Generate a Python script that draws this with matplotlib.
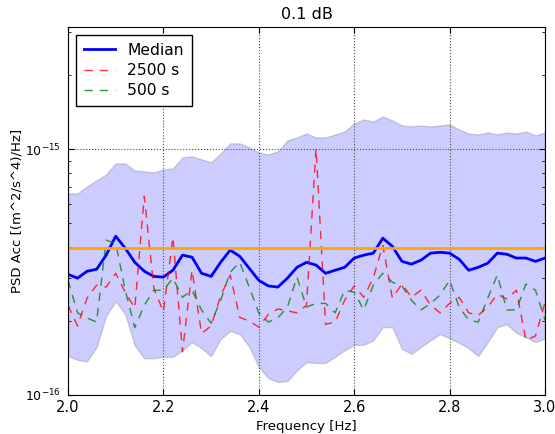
import matplotlib
matplotlib.use("Agg")
import matplotlib.pyplot as plt
import numpy as np

# frequency grid (Hz)
freq = np.round(np.arange(2.0, 3.0001, 0.02), 2)

# PSD values in units of 1e-15 (m^2/s^4)/Hz
median = [0.310, 0.299, 0.319, 0.325, 0.371, 0.443, 0.396, 0.347, 0.319, 0.304,
          0.302, 0.322, 0.371, 0.364, 0.313, 0.304, 0.347, 0.389, 0.367, 0.328,
          0.293, 0.278, 0.275, 0.299, 0.331, 0.347, 0.338, 0.313, 0.322, 0.331,
          0.361, 0.371, 0.378, 0.435, 0.403, 0.350, 0.341, 0.354, 0.378, 0.381,
          0.378, 0.357, 0.322, 0.331, 0.344, 0.378, 0.374, 0.361, 0.361, 0.350,
          0.361]
upper = [0.662, 0.662, 0.707, 0.748, 0.791, 0.877, 0.877, 0.821, 0.814, 0.806,
         0.829, 0.837, 0.928, 0.937, 0.911, 0.885, 0.963, 1.058, 1.058, 1.019,
         0.972, 0.954, 0.981, 1.088, 1.119, 1.161, 1.119, 1.119, 1.151, 1.183,
         1.276, 1.324, 1.300, 1.362, 1.312, 1.252, 1.240, 1.252, 1.240, 1.252,
         1.264, 1.206, 1.161, 1.151, 1.172, 1.151, 1.172, 1.161, 1.183, 1.140,
         1.172]
lower = [0.144, 0.139, 0.137, 0.157, 0.210, 0.241, 0.213, 0.159, 0.141, 0.141,
         0.143, 0.143, 0.152, 0.164, 0.155, 0.144, 0.169, 0.182, 0.177, 0.157,
         0.130, 0.117, 0.113, 0.114, 0.126, 0.136, 0.135, 0.135, 0.143, 0.152,
         0.160, 0.160, 0.167, 0.189, 0.189, 0.154, 0.147, 0.157, 0.167, 0.177,
         0.170, 0.163, 0.155, 0.144, 0.164, 0.189, 0.194, 0.179, 0.172, 0.164,
         0.170]
psd_2500 = [0.232, 0.191, 0.248, 0.280, 0.275, 0.313, 0.262, 0.226, 0.644, 0.272,
            0.218, 0.439, 0.150, 0.322, 0.178, 0.191, 0.253, 0.308, 0.207, 0.200,
            0.189, 0.213, 0.224, 0.220, 0.216, 0.232, 1.009, 0.194, 0.198, 0.243,
            0.278, 0.250, 0.300, 0.407, 0.248, 0.283, 0.250, 0.267, 0.232, 0.216,
            0.236, 0.250, 0.216, 0.211, 0.228, 0.257, 0.246, 0.267, 0.167, 0.174,
            0.238]
psd_500 = [0.293, 0.216, 0.206, 0.198, 0.427, 0.415, 0.267, 0.188, 0.232, 0.267,
           0.267, 0.299, 0.250, 0.267, 0.222, 0.196, 0.243, 0.316, 0.347, 0.275,
           0.216, 0.198, 0.206, 0.228, 0.302, 0.228, 0.236, 0.236, 0.216, 0.267,
           0.262, 0.222, 0.280, 0.313, 0.288, 0.278, 0.243, 0.222, 0.236, 0.255,
           0.293, 0.228, 0.202, 0.198, 0.248, 0.308, 0.222, 0.222, 0.283, 0.267,
           0.202]
threshold = 0.395

scale = 1e-15
fig = plt.figure(figsize=(5.55, 4.34), dpi=100)
ax = fig.add_axes([0.1225, 0.0899, 0.8595, 0.8479])

ax.fill_between(freq, np.array(lower) * scale, np.array(upper) * scale,
                facecolor="blue", alpha=0.2, edgecolor="0.25", linewidth=1)
ax.plot(freq, np.array(median) * scale, color="blue", lw=2, label="Median")
ax.plot(freq, np.array(psd_2500) * scale, color="red", ls="--", dashes=(6, 5),
        lw=1, alpha=0.8, label="2500 s")
ax.plot(freq, np.array(psd_500) * scale, color="green", ls="--", dashes=(6, 5),
        lw=1, alpha=0.8, label="500 s")
ax.axhline(threshold * scale, color="orange", lw=2)

ax.set_yscale("log")
ax.set_xlim(2.0, 3.0)
ax.set_ylim(1e-16, 3.15e-15)
ax.set_xticks(np.arange(2.0, 3.01, 0.2))
ax.set_xticklabels(["2.0", "2.2", "2.4", "2.6", "2.8", "3.0"])
ax.tick_params(which="both", direction="in", top=True, right=True)
ax.tick_params(axis="x", labelsize=10.5)
ax.tick_params(axis="y", labelsize=9, pad=5)
ax.tick_params(which="major", length=4)
ax.tick_params(which="minor", length=2)
ax.grid(True, which="major", linestyle=":", color="0.3", lw=0.8)

ax.set_title("0.1 dB", fontsize=11.5)
ax.set_xlabel("Frequency [Hz]", fontsize=9.5)
ax.set_ylabel("PSD Acc [(m^2/s^4)/Hz]", fontsize=9.5, labelpad=1)
leg = ax.legend(loc="upper left", fancybox=False, edgecolor="black",
                fontsize=11.2, framealpha=1, labelspacing=0.35,
                handlelength=2.0, handletextpad=0.8, borderpad=0.5)
leg.get_frame().set_linewidth(1)

fig.savefig("out.png", dpi=100)
